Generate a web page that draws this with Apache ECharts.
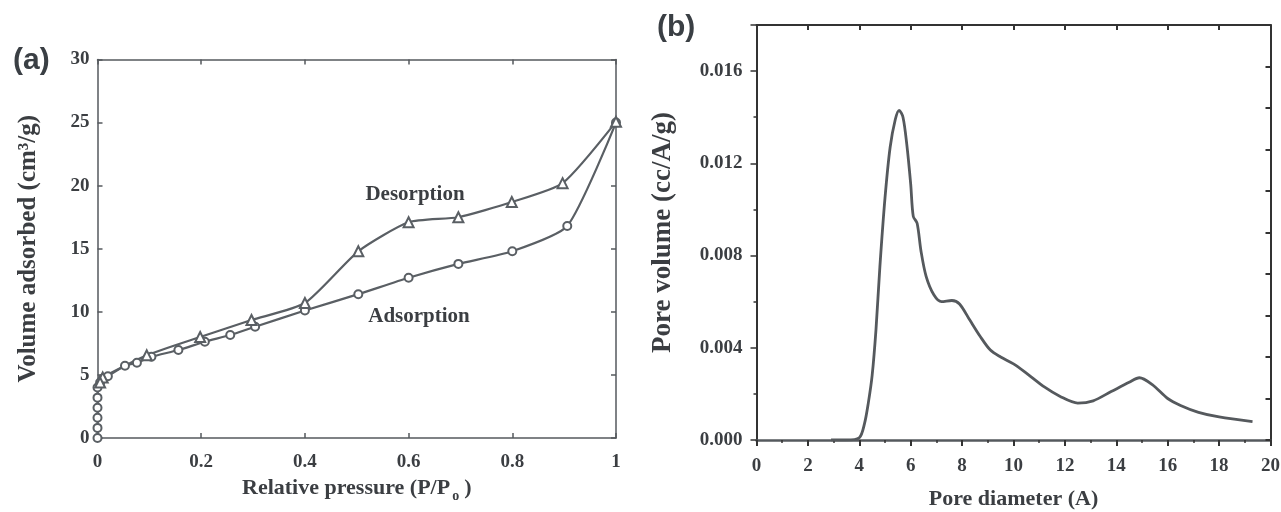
<!DOCTYPE html>
<html>
<head>
<meta charset="utf-8">
<script src="https://cdn.jsdelivr.net/npm/echarts@6/dist/echarts.min.js"></script>
<style>html,body{margin:0;padding:0;background:#fff;}#c{width:1281px;height:512px;}</style>
</head>
<body>
<div id="c"></div>
<script>
// ---- Panel (a): N2 isotherm ----
const adsP = [0, 0, 0, 0, 0, 0, 0.005, 0.01, 0.02, 0.053, 0.076, 0.104, 0.156, 0.207, 0.256, 0.304, 0.4, 0.503, 0.6, 0.696, 0.8, 0.906, 1.0];
const adsV = [0, 0.8, 1.6, 2.4, 3.2, 4.0, 4.4, 4.7, 4.9, 5.73, 5.97, 6.44, 6.97, 7.63, 8.16, 8.82, 10.1, 11.4, 12.7, 13.8, 14.8, 16.8, 25.0];
const desP = [1.0, 0.897, 0.799, 0.696, 0.6, 0.503, 0.4, 0.297, 0.198, 0.095, 0.01, 0.005];
const desV = [25.06, 20.2, 18.7, 17.5, 17.1, 14.8, 10.7, 9.35, 8.0, 6.55, 4.8, 4.4];
const xTicksA = [0, 0.2, 0.4, 0.6, 0.8, 1];
const yTicksA = [0, 5, 10, 15, 20, 25, 30];

// ---- Panel (b): pore size distribution ----
const poreD = [2.9, 3.5, 4.0, 4.2, 4.35, 4.5, 4.65, 4.8, 5.0, 5.2, 5.4, 5.55, 5.7, 5.85, 6.0, 6.1, 6.25, 6.4, 6.6, 6.9, 7.2, 7.6, 7.9, 8.3, 8.7, 9.1, 9.5, 10.0, 10.5, 11.2, 11.8, 12.5, 13.1, 13.8, 14.5, 14.9, 15.4, 16.0, 16.5, 17.2, 18.0, 19.3];
const poreV = [0, 0, 0.0001, 0.0007, 0.0016, 0.0028, 0.0048, 0.0075, 0.0105, 0.0127, 0.0139, 0.0143, 0.0140, 0.0128, 0.0111, 0.0097, 0.0094, 0.0082, 0.0071, 0.0063, 0.0060, 0.00605, 0.0059, 0.0052, 0.0045, 0.0039, 0.0036, 0.0033, 0.0029, 0.0023, 0.0019, 0.0016, 0.0017, 0.0021, 0.0025, 0.0027, 0.0024, 0.0018, 0.0015, 0.0012, 0.0010, 0.0008];

const SERIF = '"Liberation Serif","Times New Roman",serif';
const TXT = '#3b3e42';
const AX = '#55595e';
const LINE = '#5a5f64';

const lblStyle = {color: TXT, fontFamily: SERIF, fontWeight: 'bold', fontSize: 19};

function frameAxis(extra) {
  return Object.assign({
    axisLine: {show: true, onZero: false, lineStyle: {color: AX, width: 1.5}},
    splitLine: {show: false},
    axisLabel: {show: false},
    axisTick: {show: true, inside: true, length: 5, lineStyle: {color: AX, width: 1.5}}
  }, extra);
}

const chart = echarts.init(document.getElementById('c'));
chart.setOption({
  animation: false,
  backgroundColor: '#ffffff',
  grid: [
    {left: 97.5, top: 59.5, width: 518.5, height: 378.5, containLabel: false, outerBoundsMode: 'none'},
    {left: 756.5, top: 25, width: 514, height: 415, containLabel: false, outerBoundsMode: 'none'}
  ],
  xAxis: [
    frameAxis({gridIndex: 0, type: 'value', position: 'bottom', min: 0, max: 1, interval: 0.2,
      axisLabel: Object.assign({show: true, margin: 15, formatter: v => {
        const t = xTicksA.find(a => Math.abs(a - v) < 1e-6);
        return t === undefined ? '' : (t === 0 || t === 1 ? String(t) : t.toFixed(1));
      }}, lblStyle),
      name: '{n|Relative pressure (P/P}{s|o}{n|)}', nameLocation: 'middle', nameGap: 39,
      nameTextStyle: {rich: {
        n: {fontFamily: SERIF, fontWeight: 'bold', fontSize: 22, color: TXT, lineHeight: 26, verticalAlign: 'top'},
        s: {fontFamily: SERIF, fontWeight: 'bold', fontSize: 14, color: TXT, lineHeight: 26, verticalAlign: 'top', padding: [12, 5, 0, 2]}
      }}
    }),
    frameAxis({gridIndex: 0, type: 'value', position: 'top', min: 0, max: 1, interval: 0.2}),
    frameAxis({gridIndex: 1, type: 'value', position: 'bottom', min: 0, max: 20, interval: 2,
      axisLine: {show: true, onZero: false, lineStyle: {color: AX, width: 2.5}},
      axisTick: {show: true, inside: false, length: 6, lineStyle: {color: '#333', width: 2}},
      minorTick: {show: true, splitNumber: 2, length: 3, lineStyle: {color: '#333', width: 1.5}},
      axisLabel: Object.assign({show: true, margin: 17}, lblStyle),
      name: 'Pore diameter (A)', nameLocation: 'middle', nameGap: 48,
      nameTextStyle: {fontFamily: SERIF, fontWeight: 'bold', fontSize: 22, color: TXT}
    }),
    frameAxis({gridIndex: 1, type: 'value', position: 'top', min: 0, max: 20, interval: 2,
      axisLine: {show: true, onZero: false, lineStyle: {color: '#333', width: 2}},
      axisTick: {show: true, inside: true, length: 5, lineStyle: {color: '#333', width: 2}}})
  ],
  yAxis: [
    frameAxis({gridIndex: 0, type: 'value', position: 'left', min: 0, max: 30, interval: 5,
      axisLabel: Object.assign({show: true, margin: 8}, lblStyle),
      name: 'Volume adsorbed (cm³/g)', nameLocation: 'middle', nameGap: 56,
      nameTextStyle: {fontFamily: SERIF, fontWeight: 'bold', fontSize: 25, color: TXT}
    }),
    frameAxis({gridIndex: 0, type: 'value', position: 'right', min: 0, max: 30, interval: 5}),
    frameAxis({gridIndex: 1, type: 'value', position: 'left', min: 0, max: 0.018, interval: 0.004,
      axisLine: {show: true, onZero: false, lineStyle: {color: '#333', width: 2}},
      axisTick: {show: true, inside: false, length: 6, lineStyle: {color: '#333', width: 1.5}},
      minorTick: {show: true, splitNumber: 2, length: 3, lineStyle: {color: '#333', width: 1.5}},
      axisLabel: Object.assign({show: true, margin: 14, showMaxLabel: false,
        formatter: v => (Math.abs(v / 0.004 - Math.round(v / 0.004)) < 1e-6 ? v.toFixed(3) : '')}, lblStyle),
      name: 'Pore volume (cc/A/g)', nameLocation: 'middle', nameGap: 80,
      nameTextStyle: {fontFamily: SERIF, fontWeight: 'bold', fontSize: 27, color: TXT}
    }),
    frameAxis({gridIndex: 1, type: 'value', position: 'right', min: 0, max: 10, interval: 1,
      axisLine: {show: true, onZero: false, lineStyle: {color: '#333', width: 2}},
      axisTick: {show: true, inside: true, length: 5, lineStyle: {color: '#333', width: 2}}})
  ],
  series: [
    {type: 'line', xAxisIndex: 0, yAxisIndex: 0, name: 'Adsorption',
      data: adsP.map((p, i) => [p, adsV[i]]),
      symbol: 'emptyCircle', symbolSize: 8, smooth: 0.2,
      lineStyle: {color: LINE, width: 2.2}, itemStyle: {color: LINE, borderWidth: 1.6}},
    {type: 'line', xAxisIndex: 0, yAxisIndex: 0, name: 'Desorption',
      data: desP.map((p, i) => [p, desV[i]]),
      symbol: 'emptyTriangle', symbolSize: 10, smooth: 0.2,
      lineStyle: {color: LINE, width: 2.2}, itemStyle: {color: LINE, borderWidth: 1.6}},
    {type: 'line', xAxisIndex: 2, yAxisIndex: 2, name: 'Pore volume',
      data: poreD.map((d, i) => [d, poreV[i]]),
      symbol: 'none', smooth: 0.3,
      lineStyle: {color: '#55595d', width: 2.8}}
  ],
  graphic: [
    {type: 'text', left: 13, top: 46, style: {text: '(a)', fontFamily: '"Liberation Sans",Arial,sans-serif', fontWeight: 'bold', fontSize: 30, fill: '#3a3f44'}},
    {type: 'text', left: 657, top: 13, style: {text: '(b)', fontFamily: '"Liberation Sans",Arial,sans-serif', fontWeight: 'bold', fontSize: 30, fill: '#3a3f44'}},
    {type: 'text', x: 415, y: 195, style: {text: 'Desorption', align: 'center', verticalAlign: 'middle', fontFamily: SERIF, fontWeight: 'bold', fontSize: 21, fill: TXT}},
    {type: 'text', x: 419, y: 317, style: {text: 'Adsorption', align: 'center', verticalAlign: 'middle', fontFamily: SERIF, fontWeight: 'bold', fontSize: 21, fill: TXT}}
  ]
});
</script>
</body>
</html>
